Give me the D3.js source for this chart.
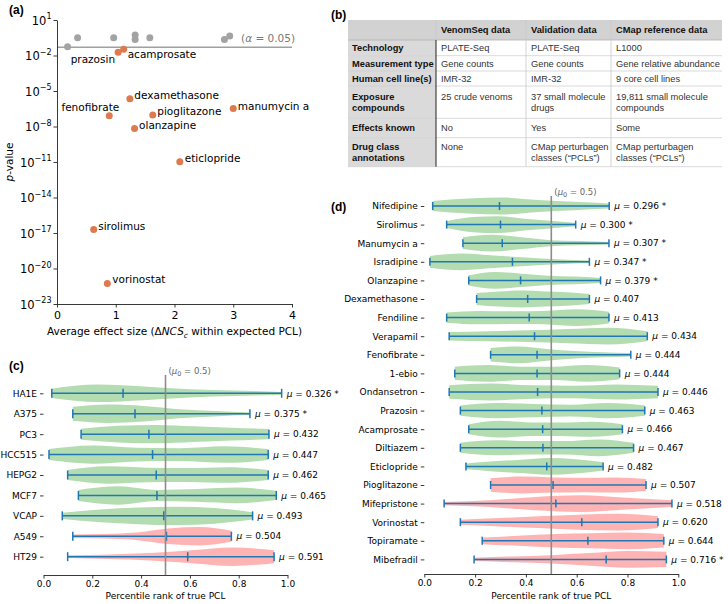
<!DOCTYPE html>
<html><head><meta charset="utf-8">
<script src="https://cdn.jsdelivr.net/npm/d3@7"></script>
<style>body{margin:0;background:#fff}svg{display:block}</style>
</head><body>
<svg id="chart" width="728" height="604"></svg>
<script>
// ================= DATA =================
// ---- panel (a): effect size vs p-value ----
const aGrayEffect = [0.18, 0.35, 0.965, 1.33, 1.33, 1.58, 2.85, 2.94];
const aGrayP      = [0.055, 0.32, 0.32, 0.54, 0.23, 0.32, 0.23, 0.45];
const aSigNames   = ["prazosin","acamprosate","dexamethasone","fenofibrate","pioglitazone","manumycin a","olanzapine","eticlopride","sirolimus","vorinostat"];
const aSigEffect  = [1.04, 1.135, 1.24, 0.89, 1.63, 3.0, 1.32, 2.09, 0.625, 0.857];
const aSigP       = [0.0186, 0.033, 2.2e-6, 8.1e-8, 9.3e-8, 3.4e-7, 6.9e-9, 1.07e-11, 2e-17, 5.5e-22];
const aAlpha      = 0.05;
const aXTicks     = [0, 1, 2, 3, 4];
const aYTickExps  = [1, -2, -5, -8, -11, -14, -17, -20, -23];

// ---- panel (b): table ----
const tableHeader     = ["", "VenomSeq data", "Validation data", "CMap reference data"];
const tableRowLabels  = ["Technology", "Measurement type", "Human cell line(s)", "Exposure\ncompounds", "Effects known", "Drug class\nannotations"];
const tableVenomSeq   = ["PLATE-Seq", "Gene counts", "IMR-32", "25 crude venoms", "No", "None"];
const tableValidation = ["PLATE-Seq", "Gene counts", "IMR-32", "37 small molecule\ndrugs", "Yes", "CMap perturbagen\nclasses (\u201CPCLs\u201D)"];
const tableCMap       = ["L1000", "Gene relative abundance", "9 core cell lines", "19,811 small molecule\ncompounds", "Some", "CMap perturbagen\nclasses (\u201CPCLs\u201D)"];

// ---- panel (c): by cell line ----
const cNames = ["HA1E","A375","PC3","HCC515","HEPG2","MCF7","VCAP","A549","HT29"];
const cMin   = [0.034, 0.12, 0.154, 0.0225, 0.099, 0.143, 0.077, 0.12, 0.099];
const cMax   = [0.976, 0.846, 0.924, 0.921, 0.921, 0.954, 0.857, 0.77, 0.945];
const cMean  = [0.326, 0.375, 0.432, 0.447, 0.462, 0.465, 0.493, 0.504, 0.591];
const cSig   = [true, true, false, false, false, false, false, false, false];
// relative violin half-widths sampled evenly from min to max
const cShape = [
  [0.5, 0.95, 0.75, 0.45, 0.3, 0.15],
  [0.75, 1.0, 0.85, 0.5, 0.3, 0.12],
  [0.6, 0.9, 1.0, 0.85, 0.7, 0.55],
  [0.6, 1.0, 0.75, 0.7, 0.9, 0.6],
  [0.55, 0.95, 0.8, 0.75, 0.85, 0.55],
  [0.6, 1.0, 0.6, 0.7, 0.85, 0.5],
  [0.35, 0.7, 0.9, 1.0, 0.85, 0.4],
  [0.2, 0.25, 0.4, 0.85, 1.0, 0.6],
  [0.15, 0.25, 0.4, 0.7, 1.0, 0.7]
];

// ---- panel (d): by drug ----
const dNames = ["Nifedipine","Sirolimus","Manumycin a","Isradipine","Olanzapine","Dexamethasone","Fendiline","Verapamil","Fenofibrate","1-ebio","Ondansetron","Prazosin","Acamprosate","Diltiazem","Eticlopride","Pioglitazone","Mifepristone","Vorinostat","Topiramate","Mibefradil"];
const dMin  = [0.033, 0.088, 0.152, 0.022, 0.175, 0.206, 0.088, 0.098, 0.261, 0.12, 0.098, 0.142, 0.175, 0.142, 0.164, 0.261, 0.078, 0.142, 0.228, 0.196];
const dMax  = [0.728, 0.596, 0.727, 0.65, 0.694, 0.65, 0.727, 0.878, 0.813, 0.769, 0.92, 0.868, 0.78, 0.824, 0.704, 0.873, 0.975, 0.92, 0.943, 0.953];
const dMean = [0.296, 0.300, 0.307, 0.347, 0.379, 0.407, 0.413, 0.434, 0.444, 0.444, 0.446, 0.463, 0.466, 0.467, 0.482, 0.507, 0.518, 0.620, 0.644, 0.716];
const dSig  = [true, true, true, true, true, false, false, false, false, false, false, false, false, false, false, false, false, false, false, true];
const dShape = [
  [0.6, 0.9, 1.0, 0.7, 0.5, 0.3],
  [0.4, 0.9, 1.0, 0.7, 0.45, 0.2],
  [0.7, 1.0, 0.7, 0.35, 0.25, 0.15],
  [0.7, 1.0, 0.75, 0.5, 0.3, 0.15],
  [0.6, 1.0, 0.8, 0.55, 0.45, 0.3],
  [0.7, 0.9, 1.0, 0.9, 0.8, 0.6],
  [0.6, 0.8, 0.75, 0.8, 1.0, 0.7],
  [0.5, 0.6, 0.7, 0.85, 1.0, 0.6],
  [0.8, 1.0, 0.7, 0.45, 0.3, 0.2],
  [0.8, 1.0, 0.8, 0.8, 1.0, 0.7],
  [0.8, 1.0, 0.8, 0.75, 0.9, 0.75],
  [0.6, 0.9, 0.8, 0.7, 0.9, 0.6],
  [0.6, 1.0, 0.8, 0.8, 0.9, 0.6],
  [0.6, 0.9, 0.8, 0.8, 1.0, 0.6],
  [0.35, 0.6, 0.8, 1.0, 0.85, 0.5],
  [0.8, 1.0, 0.9, 0.85, 0.9, 0.7],
  [0.2, 0.4, 0.8, 1.0, 0.7, 0.4],
  [0.3, 0.5, 0.7, 0.9, 1.0, 0.7],
  [0.4, 0.6, 0.8, 0.9, 1.0, 0.8],
  [0.2, 0.35, 0.5, 0.75, 1.0, 0.9]
];
const percentTicks = [0, 0.2, 0.4, 0.6, 0.8, 1.0];
const mu0 = 0.5;

// ================= LAYOUT / STYLE =================
const FONT = "'DejaVu Sans', sans-serif";
const TFONT = "'Liberation Sans', Arial, sans-serif";
const GRAY_PT = "#a3a3a3", ORANGE = "#dd7a4f", BLUE = "#1f77b4";
const GREEN_FILL = "#b3dcb1", RED_FILL = "#ffb3b3";
const aLabelOffset = {
  "prazosin": [-3, 7, "end"], "acamprosate": [4, 5, "start"], "dexamethasone": [4.5, -3, "start"],
  "fenofibrate": [10, -8, "end"], "pioglitazone": [4.5, -4, "start"], "manumycin a": [4.5, -2, "start"],
  "olanzapine": [4.5, -3, "start"], "eticlopride": [5, -3.5, "start"], "sirolimus": [4.5, -3, "start"],
  "vorinostat": [5, -4, "start"]
};

const svg = d3.select("#chart");

function panelLabel(txt, x, y) {
  svg.append("text").attr("x", x).attr("y", y).attr("font-family", TFONT)
    .attr("font-weight", "bold").attr("font-size", 12).attr("fill", "#000").text(txt);
}

// ================= PANEL (a) =================
(function () {
  const g = svg.append("g").attr("font-family", FONT);
  const x = d3.scaleLinear().domain([0, 4]).range([57, 292]);
  const y = d3.scaleLog().domain([1e-23, 1e1]).range([304, 20]);
  const fs = 10.5;

  // alpha line
  g.append("line").attr("x1", x(0)).attr("x2", x(4)).attr("y1", y(aAlpha)).attr("y2", y(aAlpha))
    .attr("stroke", "#a0a0a0").attr("stroke-width", 1.6);
  const al = g.append("text").attr("x", 295).attr("y", 41.5).attr("text-anchor", "end")
    .attr("font-size", fs).attr("fill", "#777");
  al.append("tspan").text("(");
  al.append("tspan").attr("font-style", "italic").text("\u03B1");
  al.append("tspan").text(" = 0.05)");

  // axes
  const xa = g.append("g").attr("transform", "translate(0,304)")
    .call(d3.axisBottom(x).tickValues(aXTicks).tickSize(3.5).tickSizeOuter(0).tickFormat(d3.format("d")));
  xa.attr("font-family", null).attr("font-size", null);
  xa.select(".domain").attr("stroke", "#222").attr("stroke-width", 0.9);
  xa.selectAll(".tick line").attr("stroke", "#222").attr("stroke-width", 0.9);
  xa.selectAll(".tick text").attr("font-size", 11).attr("fill", "#000").attr("y", 7.5);

  const ya = g.append("g").attr("transform", "translate(57,0)")
    .call(d3.axisLeft(y).tickValues(aYTickExps.map(e => Math.pow(10, e))).tickSize(3.5).tickSizeOuter(0).tickFormat(() => ""));
  ya.attr("font-family", null).attr("font-size", null);
  ya.select(".domain").attr("stroke", "#222").attr("stroke-width", 0.9);
  ya.selectAll(".tick line").attr("stroke", "#222").attr("stroke-width", 0.9);
  ya.selectAll(".tick text").remove();
  aYTickExps.forEach(e => {
    const t = g.append("text").attr("x", 51.5).attr("y", y(Math.pow(10, e)) + 4.5)
      .attr("text-anchor", "end").attr("font-size", 11.5).attr("fill", "#000");
    t.append("tspan").text("10");
    t.append("tspan").attr("font-size", 8).attr("dy", -5.5).text(e < 0 ? "\u2212" + (-e) : String(e));
  });

  // axis labels
  const xl = g.append("text").attr("x", 174.5).attr("y", 335).attr("text-anchor", "middle")
    .attr("font-size", fs).attr("fill", "#000");
  xl.append("tspan").text("Average effect size (\u0394");
  xl.append("tspan").attr("font-style", "italic").text("NCS");
  xl.append("tspan").attr("font-style", "italic").attr("font-size", 7.5).attr("dy", 2.5).text("c");
  xl.append("tspan").attr("dy", -2.5).text(" within expected PCL)");

  const yl = g.append("text").attr("transform", "translate(13,162) rotate(-90)")
    .attr("text-anchor", "middle").attr("font-size", fs).attr("fill", "#000");
  yl.append("tspan").attr("font-style", "italic").text("p");
  yl.append("tspan").text("-value");

  // points
  g.selectAll("circle.ns").data(aGrayEffect.map((v, i) => ({ x: v, p: aGrayP[i] })))
    .join("circle").attr("class", "ns").attr("cx", d => x(d.x)).attr("cy", d => y(d.p))
    .attr("r", 3.5).attr("fill", GRAY_PT);
  const sig = aSigNames.map((n, i) => ({ name: n, x: aSigEffect[i], p: aSigP[i] }));
  g.selectAll("circle.sig").data(sig).join("circle").attr("class", "sig")
    .attr("cx", d => x(d.x)).attr("cy", d => y(d.p)).attr("r", 3.5).attr("fill", ORANGE);
  g.selectAll("text.lbl").data(sig).join("text").attr("class", "lbl")
    .attr("x", d => x(d.x) + aLabelOffset[d.name][0])
    .attr("y", d => y(d.p) + aLabelOffset[d.name][1] + 3.7)
    .attr("text-anchor", d => aLabelOffset[d.name][2])
    .attr("font-size", fs).attr("fill", "#000").text(d => d.name);
})();
panelLabel("(a)", 9, 14);

// ================= PANEL (b) =================
(function () {
  const g = svg.append("g").attr("font-family", TFONT);
  const colX = [348, 436, 526, 611, 722];
  const rowY = [20, 40, 55.7, 71, 86, 118.3, 137.7, 166.7];
  const fs = 9.3, lh = 11;
  const cols = [tableRowLabels, tableVenomSeq, tableValidation, tableCMap];
  const cells = [];
  tableHeader.forEach((h, c) => cells.push({ r: 0, c, text: h, head: true }));
  tableRowLabels.forEach((_, r) => cols.forEach((col, c) => cells.push({ r: r + 1, c, text: col[r], head: c === 0 })));
  // number of lines per row (for top alignment of cells)
  const rowLines = [1].concat(tableRowLabels.map((_, r) => d3.max(cols, col => col[r].split("\n").length)));

  g.selectAll("rect.cell").data(cells).join("rect").attr("class", "cell")
    .attr("x", d => colX[d.c]).attr("y", d => rowY[d.r])
    .attr("width", d => colX[d.c + 1] - colX[d.c]).attr("height", d => rowY[d.r + 1] - rowY[d.r])
    .attr("fill", d => d.r === 0 ? "#d2d2d2" : (d.c === 0 ? "#dadada" : "#fff"));

  // grid lines
  rowY.slice(1).forEach((yy, i) => g.append("line").attr("x1", colX[0]).attr("x2", colX[4])
    .attr("y1", yy).attr("y2", yy).attr("stroke", i === 0 ? "#b0b0b0" : "#cfcfcf").attr("stroke-width", 0.8));
  [2, 3].forEach(c => g.append("line").attr("x1", colX[c]).attr("x2", colX[c])
    .attr("y1", rowY[0]).attr("y2", rowY[7]).attr("stroke", "#c8c8c8").attr("stroke-width", 0.8));
  g.append("line").attr("x1", colX[1]).attr("x2", colX[1]).attr("y1", rowY[0]).attr("y2", rowY[1])
    .attr("stroke", "#c8c8c8").attr("stroke-width", 0.8);
  g.append("line").attr("x1", colX[1]).attr("x2", colX[1]).attr("y1", rowY[1]).attr("y2", rowY[7])
    .attr("stroke", "#222").attr("stroke-width", 1);

  const txt = g.selectAll("text.cell").data(cells.filter(d => d.text)).join("text").attr("class", "cell")
    .attr("font-size", fs).attr("font-weight", d => d.head ? "bold" : "normal")
    .attr("fill", d => d.head ? "#111" : "#333");
  txt.each(function (d) {
    const lines = d.text.split("\n");
    const cy = (rowY[d.r] + rowY[d.r + 1]) / 2;
    const y0 = cy - (rowLines[d.r] - 1) * lh / 2 + fs * 0.35;
    const x0 = colX[d.c] + (d.c === 0 ? 4 : 5);
    d3.select(this).selectAll("tspan").data(lines).join("tspan")
      .attr("x", x0).attr("y", (l, i) => y0 + i * lh).text(l => l);
  });
})();
panelLabel("(b)", 331, 19);

// ================= PANELS (c) & (d) =================
function violinPanel(cfg) {
  const g = svg.append("g").attr("font-family", FONT);
  const fs = 9;
  const x = d3.scaleLinear().domain([0, 1]).range([cfg.x0, cfg.x1]);
  const y = d3.scalePoint().domain(cfg.names).range([cfg.yTop, cfg.yBot]);
  const w = d3.scaleLinear().domain([0, 1]).range([0, cfg.half]);
  const rows = cfg.names.map((n, i) => ({
    name: n, min: cfg.min[i], max: cfg.max[i], mean: cfg.mean[i], sig: cfg.sig[i],
    pts: cfg.shape[i].map((v, k, arr) => ({ t: cfg.min[i] + (cfg.max[i] - cfg.min[i]) * k / (arr.length - 1), v }))
  }));

  // violins
  g.selectAll("path.violin").data(rows).join("path").attr("class", "violin")
    .attr("d", r => d3.area().curve(d3.curveMonotoneX)
      .x(p => x(p.t)).y0(p => y(r.name) - w(p.v)).y1(p => y(r.name) + w(p.v))(r.pts))
    .attr("fill", r => r.mean < mu0 ? GREEN_FILL : RED_FILL);

  // range lines, caps, mean ticks
  g.selectAll("line.rng").data(rows).join("line").attr("class", "rng")
    .attr("x1", r => x(r.min)).attr("x2", r => x(r.max)).attr("y1", r => y(r.name)).attr("y2", r => y(r.name))
    .attr("stroke", BLUE).attr("stroke-width", 1.5);
  ["min", "max", "mean"].forEach(k => {
    g.selectAll("line.c" + k).data(rows).join("line").attr("class", "c" + k)
      .attr("x1", r => x(r[k])).attr("x2", r => x(r[k]))
      .attr("y1", r => y(r.name) - cfg.cap).attr("y2", r => y(r.name) + cfg.cap)
      .attr("stroke", BLUE).attr("stroke-width", 1.5);
  });

  // mu0 line
  g.append("line").attr("x1", x(mu0)).attr("x2", x(mu0)).attr("y1", cfg.lineTop).attr("y2", cfg.axisY)
    .attr("stroke", "#8c8c8c").attr("stroke-width", 1.6);
  const ml = g.append("text").attr("x", x(mu0) + 3).attr("y", cfg.lineTop - 1).attr("font-size", fs - 0.5).attr("fill", "#666");
  ml.append("tspan").text("(");
  ml.append("tspan").attr("font-style", "italic").text("\u03BC");
  ml.append("tspan").attr("font-size", 6.5).attr("dy", 2).text("0");
  ml.append("tspan").attr("dy", -2).text(" = 0.5)");

  // mean labels
  const lab = g.selectAll("text.mu").data(rows).join("text").attr("class", "mu")
    .attr("x", r => x(r.max) + 5).attr("y", r => y(r.name) + 3.2).attr("font-size", fs).attr("fill", "#000");
  lab.append("tspan").attr("font-style", "italic").text("\u03BC");
  lab.append("tspan").text(r => " = " + d3.format(".3f")(r.mean) + (r.sig ? " *" : ""));

  // x axis
  const xa = g.append("g").attr("transform", `translate(0,${cfg.axisY})`)
    .call(d3.axisBottom(x).tickValues(percentTicks).tickSize(3.5).tickSizeOuter(0).tickFormat(d3.format(".1f")));
  xa.attr("font-family", null).attr("font-size", null);
  xa.select(".domain").attr("stroke", "#222").attr("stroke-width", 0.9);
  xa.selectAll(".tick line").attr("stroke", "#222").attr("stroke-width", 0.9);
  xa.selectAll(".tick text").attr("font-size", fs).attr("fill", "#000").attr("y", 6);
  g.append("text").attr("x", (cfg.x0 + cfg.x1) / 2).attr("y", 598.5).attr("text-anchor", "middle")
    .attr("font-size", fs).attr("fill", "#000").text("Percentile rank of true PCL");

  // y axis (ticks only)
  const ya = g.append("g").attr("transform", `translate(${cfg.x0},0)`)
    .call(d3.axisLeft(y).tickSize(3.5).tickPadding(3));
  ya.attr("font-family", null).attr("font-size", null);
  ya.select(".domain").remove();
  ya.selectAll(".tick line").attr("stroke", "#222").attr("stroke-width", 0.9);
  ya.selectAll(".tick text").attr("font-size", fs).attr("fill", "#000");
}

violinPanel({ names: cNames, min: cMin, max: cMax, mean: cMean, sig: cSig, shape: cShape,
  x0: 43.5, x1: 287.5, yTop: 393.3, yBot: 556.7, axisY: 575, lineTop: 375, half: 9.2, cap: 4.5 });
panelLabel("(c)", 9, 370);

violinPanel({ names: dNames, min: dMin, max: dMax, mean: dMean, sig: dSig, shape: dShape,
  x0: 424.3, x1: 678.3, yTop: 206, yBot: 559.4, axisY: 574, lineTop: 196, half: 8.4, cap: 4 });
panelLabel("(d)", 331, 211);
</script>
</body></html>
